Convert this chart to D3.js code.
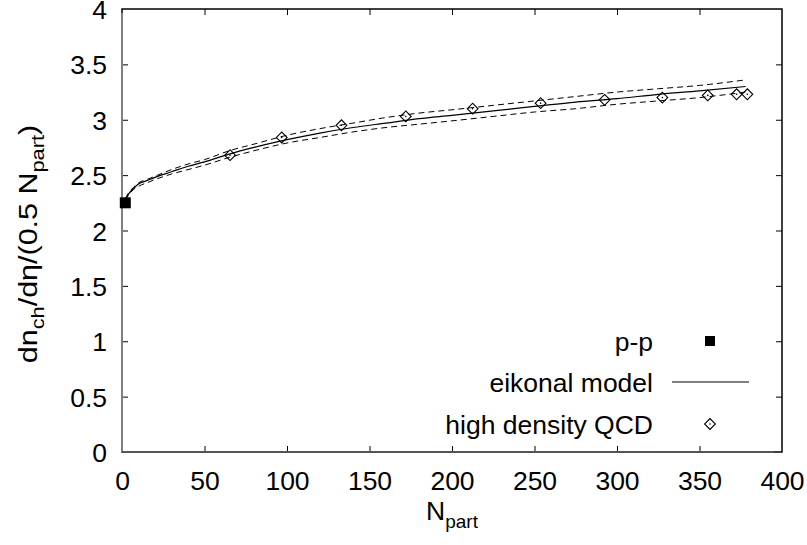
<!DOCTYPE html>
<html><head><meta charset="utf-8">
<script src="https://cdn.jsdelivr.net/npm/d3@7"></script>
<style>
body{margin:0;background:#fff;}
svg{display:block;font-family:"Liberation Sans",Arial,Helvetica,sans-serif;}
</style></head>
<body><svg id="chart" width="807" height="545"></svg>
<script>
// ---- data ----
const xTicks = [0, 50, 100, 150, 200, 250, 300, 350, 400];
const yTicks = [0, 0.5, 1, 1.5, 2, 2.5, 3, 3.5, 4];
const yTickLabels = ["0", "0.5", "1", "1.5", "2", "2.5", "3", "3.5", "4"];

const ppN = [2];
const ppY = [2.25];

const eikN   = [2, 4, 7, 10, 15, 20, 30, 40, 50, 65, 80, 100, 120, 140, 160, 180, 200, 225, 250, 275, 300, 325, 350, 378];
const eikMid = [2.28, 2.33, 2.38, 2.42, 2.45, 2.48, 2.53, 2.58, 2.62, 2.69, 2.75, 2.82, 2.88, 2.93, 2.97, 3.01, 3.04, 3.08, 3.12, 3.16, 3.19, 3.23, 3.26, 3.30];
const eikUp  = [2.29, 2.34, 2.39, 2.43, 2.46, 2.49, 2.55, 2.60, 2.64, 2.72, 2.78, 2.86, 2.92, 2.97, 3.02, 3.06, 3.09, 3.13, 3.17, 3.21, 3.25, 3.28, 3.31, 3.36];
const eikLow = [2.27, 2.32, 2.37, 2.40, 2.43, 2.46, 2.51, 2.55, 2.59, 2.66, 2.72, 2.79, 2.84, 2.89, 2.93, 2.96, 2.99, 3.03, 3.07, 3.10, 3.14, 3.17, 3.20, 3.25];

const qcdN = [65.5, 96.8, 133, 172, 212.5, 253.7, 292.5, 327.5, 355, 372.5, 379];
const qcdY = [2.68, 2.84, 2.95, 3.03, 3.10, 3.15, 3.18, 3.20, 3.22, 3.23, 3.23];

const legendLabels = ["p-p", "eikonal model", "high density QCD"];

// ---- layout ----
const W = 807, H = 545;
const m = {left: 122, top: 9, right: 25, bottom: 93};
const svg = d3.select("#chart");
const x = d3.scaleLinear().domain([0, 400]).range([m.left, W - m.right]);
const y = d3.scaleLinear().domain([0, 4]).range([H - m.bottom, m.top]);
const fs = 26.5, sfs = 19;

// ticks (inward, mirrored)
const tl = 6;
const g = svg.append("g");
const xb = d3.axisBottom(x).tickValues(xTicks).tickSize(-tl).tickPadding(19).tickFormat(d3.format("d"));
const xa = g.append("g").attr("transform", `translate(0,${y(0)})`).call(xb);
const xt = d3.axisTop(x).tickValues(xTicks).tickSize(-tl).tickFormat("");
const xat = g.append("g").attr("transform", `translate(0,${y(4)})`).call(xt);
const yl = d3.axisLeft(y).tickValues(yTicks).tickSize(-tl).tickPadding(15).tickFormat((d, i) => yTickLabels[i]);
const ya = g.append("g").attr("transform", `translate(${x(0)},0)`).call(yl);
const yr = d3.axisRight(y).tickValues(yTicks).tickSize(-tl).tickFormat("");
const yar = g.append("g").attr("transform", `translate(${x(400)},0)`).call(yr);
[xa, xat, ya, yar].forEach(a => {
  a.select(".domain").remove();
  a.selectAll(".tick line").attr("stroke", "#000").attr("stroke-width", 1);
  a.selectAll("text").attr("font-size", fs).attr("fill", "#000")
    .attr("font-family", '"Liberation Sans",Arial,sans-serif');
});
xa.selectAll(".tick").filter(d => d === 0 || d === 400).select("line").remove();
xat.selectAll(".tick").filter(d => d === 0 || d === 400).select("line").remove();
ya.selectAll(".tick").filter(d => d === 0 || d === 4).select("line").remove();
yar.selectAll(".tick").filter(d => d === 0 || d === 4).select("line").remove();
xa.selectAll("text").attr("dy", "0.71em");
ya.selectAll("text").attr("dy", "0.36em");

// frame
svg.append("rect").attr("x", x(0)).attr("y", y(4)).attr("width", x(400) - x(0)).attr("height", y(0) - y(4))
  .attr("fill", "none").attr("stroke", "#000").attr("stroke-width", 1.5);
svg.append("line").attr("x1", x(0)).attr("x2", x(0)).attr("y1", y(4) + 4).attr("y2", y(0))
  .attr("stroke", "#808080").attr("stroke-width", 2);
svg.append("line").attr("x1", x(0)).attr("x2", x(400) - 8).attr("y1", y(0)).attr("y2", y(0))
  .attr("stroke", "#555").attr("stroke-width", 1.8);

// curves
const line = d3.line().x(d => x(d[0])).y(d => y(d[1])).curve(d3.curveMonotoneX);
const zip = (a, b) => a.map((v, i) => [v, b[i]]);
svg.append("path").datum(zip(eikN, eikUp)).attr("d", line).attr("fill", "none")
  .attr("stroke", "#000").attr("stroke-width", 1).attr("stroke-dasharray", "6,4");
svg.append("path").datum(zip(eikN, eikLow)).attr("d", line).attr("fill", "none")
  .attr("stroke", "#000").attr("stroke-width", 1).attr("stroke-dasharray", "6,4");
svg.append("path").datum(zip(eikN, eikMid)).attr("d", line).attr("fill", "none")
  .attr("stroke", "#000").attr("stroke-width", 1.2);

// QCD diamonds
const diamond = d3.symbol(d3.symbolSquare, 58);
const qg = svg.append("g");
zip(qcdN, qcdY).forEach(d => {
  qg.append("path").attr("d", diamond()).attr("transform", `translate(${x(d[0])},${y(d[1])}) rotate(45)`)
    .attr("fill", "none").attr("stroke", "#000").attr("stroke-width", 1.1);
  qg.append("circle").attr("cx", x(d[0])).attr("cy", y(d[1])).attr("r", 0.8).attr("fill", "#000");
});

// p-p square
svg.selectAll(".pp").data(zip(ppN, ppY)).enter().append("rect").attr("class", "pp")
  .attr("x", d => x(d[0]) - 5.5).attr("y", d => y(d[1]) - 5.5).attr("width", 11).attr("height", 11).attr("fill", "#000");

// legend
const lx = 653, lys = [341, 382, 424], sx = 710;
legendLabels.forEach((t, i) => {
  svg.append("text").attr("x", lx).attr("y", lys[i]).attr("dy", "0.36em").attr("text-anchor", "end")
    .attr("font-size", fs).text(t);
});
svg.append("rect").attr("x", sx - 5).attr("y", lys[0] - 5).attr("width", 10).attr("height", 10).attr("fill", "#000");
svg.append("line").attr("x1", 672).attr("x2", 749).attr("y1", lys[1]).attr("y2", lys[1]).attr("stroke", "#000").attr("stroke-width", 1.2);
svg.append("path").attr("d", diamond()).attr("transform", `translate(${sx},${lys[2]}) rotate(45)`)
  .attr("fill", "none").attr("stroke", "#000").attr("stroke-width", 1.1);
svg.append("circle").attr("cx", sx).attr("cy", lys[2]).attr("r", 0.8).attr("fill", "#000");

// axis titles
const xtT = svg.append("text").attr("x", 452).attr("y", 520).attr("text-anchor", "middle").attr("font-size", fs);
xtT.append("tspan").text("N");
xtT.append("tspan").attr("font-size", sfs).attr("dy", 8).text("part");

const ytT = svg.append("text").attr("transform", `translate(37,244) rotate(-90) scale(1.15,1)`).attr("text-anchor", "middle").attr("font-size", fs);
ytT.append("tspan").text("dn");
ytT.append("tspan").attr("font-size", sfs).attr("dy", 7).text("ch");
ytT.append("tspan").attr("dy", -7).text("/dη/(0.5 N");
ytT.append("tspan").attr("font-size", sfs).attr("dy", 7).text("part");
ytT.append("tspan").attr("dy", -7).text(")");
</script></body></html>
